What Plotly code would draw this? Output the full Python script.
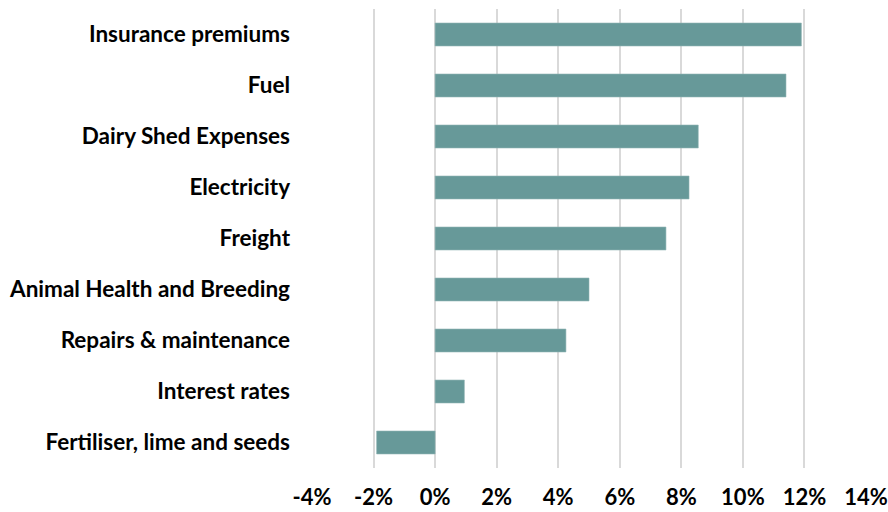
import plotly.graph_objects as go

# Cost categories, top to bottom as drawn
categories = [
    "Insurance premiums",
    "Fuel",
    "Dairy Shed Expenses",
    "Electricity",
    "Freight",
    "Animal Health and Breeding",
    "Repairs & maintenance",
    "Interest rates",
    "Fertiliser, lime and seeds",
]
# Annual change in cost, percent
changes = [11.9, 11.4, 8.55, 8.25, 7.5, 5.0, 4.25, 0.95, -1.9]

tick_values = [-4, -2, 0, 2, 4, 6, 8, 10, 12, 14]
tick_labels = ["-4%", "-2%", "0%", "2%", "4%", "6%", "8%", "10%", "12%", "14%"]

fig = go.Figure(
    go.Bar(
        x=changes,
        y=categories,
        orientation="h",
        marker=dict(color="#679999", line=dict(color="#8fb3b3", width=0.6)),
        width=0.45,
    )
)

font_family = "Lato, 'Open Sans', sans-serif"

fig.update_layout(
    width=888,
    height=512,
    margin=dict(l=312, r=22, t=9, b=44),
    plot_bgcolor="white",
    paper_bgcolor="white",
    showlegend=False,
    bargap=0.55,
    font=dict(family=font_family, size=22, color="#000000"),
)

fig.update_xaxes(
    range=[-4, 14],
    tickvals=tick_values,
    ticktext=tick_labels,
    showgrid=True,
    gridcolor="#d9d9d9",
    gridwidth=2,
    zeroline=False,
    showline=False,
    ticks="",
    automargin=False,
    ticklabelstandoff=14,
    tickfont=dict(family=font_family, size=22, color="#000000", weight="bold"),
)

fig.update_yaxes(
    categoryorder="array",
    categoryarray=categories[::-1],
    showgrid=False,
    zeroline=False,
    showline=False,
    ticks="",
    automargin=False,
    ticklabelstandoff=21,
    tickfont=dict(family=font_family, size=22.5, color="#000000", weight="bold"),
)

fig.write_html("out.html")
